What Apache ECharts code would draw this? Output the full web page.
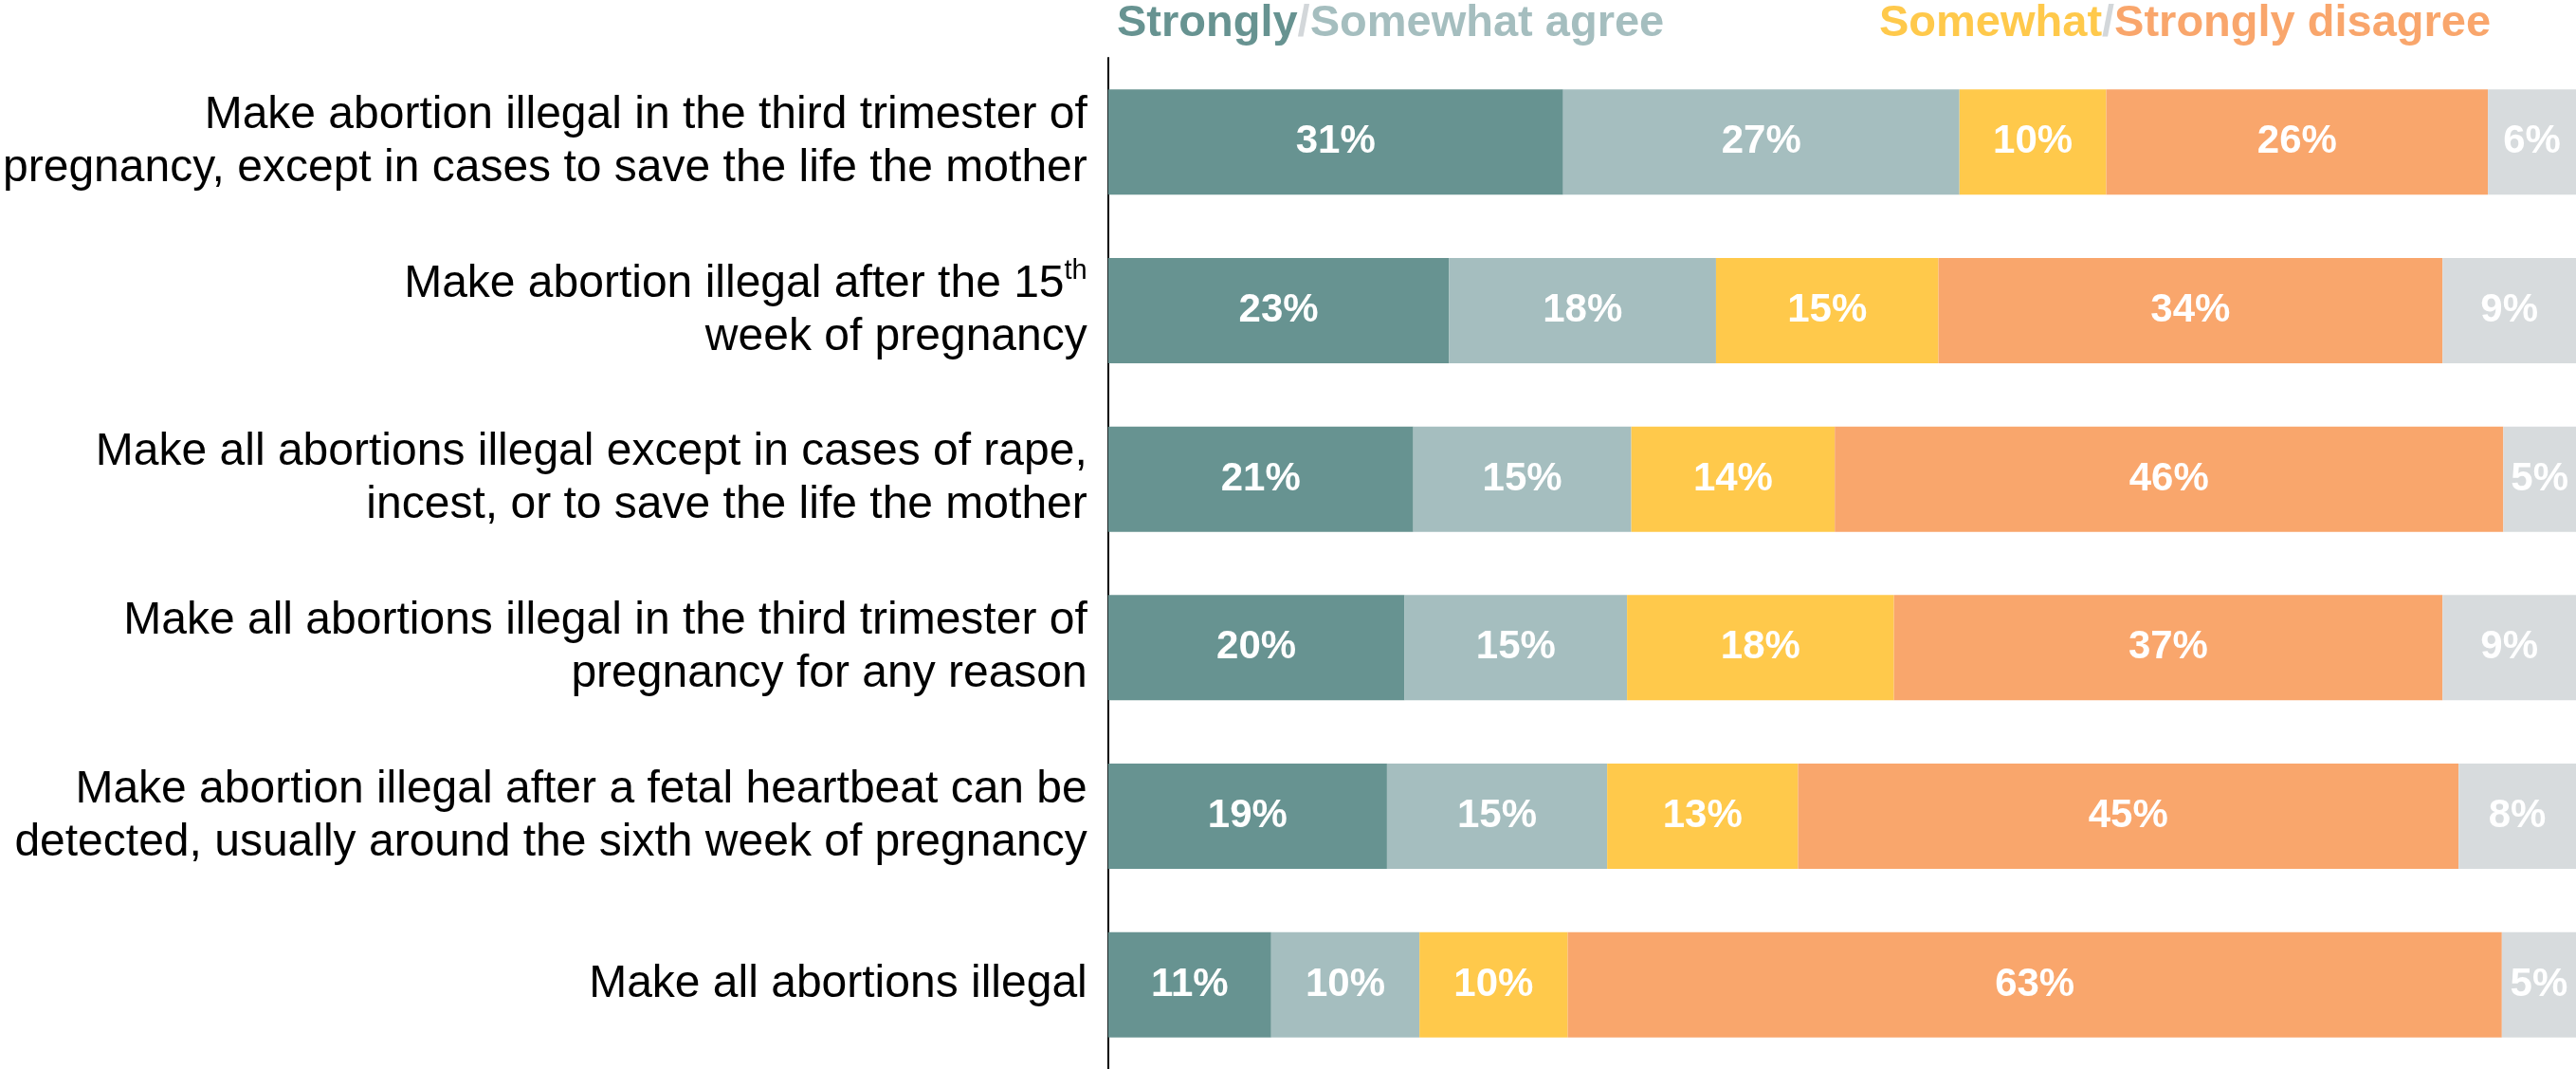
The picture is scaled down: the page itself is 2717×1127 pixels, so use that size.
<!DOCTYPE html>
<html>
<head>
<meta charset="utf-8">
<script src="https://cdn.jsdelivr.net/npm/echarts@6/dist/echarts.min.js"></script>
<style>
html,body{margin:0;padding:0;background:#fff;}
#chart{width:2717px;height:1127px;}
</style>
</head>
<body>
<div id="chart"></div>
<script>
const categories = [
  "Make abortion illegal in the third trimester of\npregnancy, except in cases to save the life the mother",
  "Make abortion illegal after the 15th\nweek of pregnancy",
  "Make all abortions illegal except in cases of rape,\nincest, or to save the life the mother",
  "Make all abortions illegal in the third trimester of\npregnancy for any reason",
  "Make abortion illegal after a fetal heartbeat can be\ndetected, usually around the sixth week of pregnancy",
  "Make all abortions illegal"
];
const seriesNames = ["Strongly agree", "Somewhat agree", "Somewhat disagree", "Strongly disagree", "Not sure"];
const stronglyAgree    = [31, 23, 21, 20, 19, 11];
const somewhatAgree    = [27, 18, 15, 15, 15, 10];
const somewhatDisagree = [10, 15, 14, 18, 13, 10];
const stronglyDisagree = [26, 34, 46, 37, 45, 63];
const notSure          = [6, 9, 5, 9, 8, 5];
const legendAgree = ["Strongly", "/", "Somewhat agree"];
const legendDisagree = ["Somewhat", "/", "Strongly disagree"];

const colors = ["#679391", "#A5BEBF", "#FFC94B", "#F9A66C", "#D7DBDD"];
const allSeries = [stronglyAgree, somewhatAgree, somewhatDisagree, stronglyDisagree, notSure];
const rowSums = categories.map((c, i) => allSeries.reduce((s, arr) => s + arr[i], 0));

const chart = echarts.init(document.getElementById('chart'), null, {renderer: 'canvas'});
const FONT = '"Liberation Sans", Arial, Helvetica, sans-serif';

const option = {
  backgroundColor: '#ffffff',
  animation: false,
  grid: {left: 1163, top: 61, width: 1556, height: 1068, containLabel: false},
  xAxis: {type: 'value', min: 0, max: 100, show: false},
  yAxis: {
    type: 'category',
    data: categories,
    inverse: true,
    axisTick: {show: false},
    splitLine: {show: false},
    axisLine: {show: true, lineStyle: {color: '#000000', width: 2}},
    axisLabel: {
      margin: 22,
      align: 'right',
      fontFamily: FONT,
      fontSize: 48,
      color: '#000000',
      lineHeight: 56,
      formatter: v => v.replace('15th', '15{sup|th}'),
      rich: {
        sup: {fontSize: 29, fontFamily: FONT, color: '#000000', lineHeight: 56, verticalAlign: 'top', padding: [0, 0, 0, 0]}
      }
    }
  },
  series: allSeries.map((arr, si) => ({
    name: seriesNames[si],
    type: 'bar',
    stack: 'total',
    barWidth: 111,
    itemStyle: {color: colors[si]},
    label: {
      show: true,
      position: 'inside',
      color: '#ffffff',
      fontFamily: FONT,
      fontWeight: 'bold',
      fontSize: 42,
      formatter: p => p.data.raw + '%'
    },
    data: arr.map((v, i) => ({value: v / rowSums[i] * 100, raw: v}))
  })),
  graphic: [
    {
      type: 'text', x: 1178, y: 25,
      style: {
        text: '{a|' + legendAgree[0] + '}{s|' + legendAgree[1] + '}{b|' + legendAgree[2] + '}',
        verticalAlign: 'middle',
        rich: {
          a: {fill: colors[0], fontSize: 47, fontWeight: 'bold', fontFamily: FONT},
          s: {fill: '#D3D7DA', fontSize: 47, fontWeight: 'bold', fontFamily: FONT},
          b: {fill: colors[1], fontSize: 47, fontWeight: 'bold', fontFamily: FONT}
        }
      }
    },
    {
      type: 'text', x: 1982, y: 25,
      style: {
        text: '{a|' + legendDisagree[0] + '}{s|' + legendDisagree[1] + '}{b|' + legendDisagree[2] + '}',
        verticalAlign: 'middle',
        rich: {
          a: {fill: colors[2], fontSize: 47, fontWeight: 'bold', fontFamily: FONT},
          s: {fill: '#D3D7DA', fontSize: 47, fontWeight: 'bold', fontFamily: FONT},
          b: {fill: colors[3], fontSize: 47, fontWeight: 'bold', fontFamily: FONT}
        }
      }
    }
  ]
};
chart.setOption(option);
</script>
</body>
</html>
